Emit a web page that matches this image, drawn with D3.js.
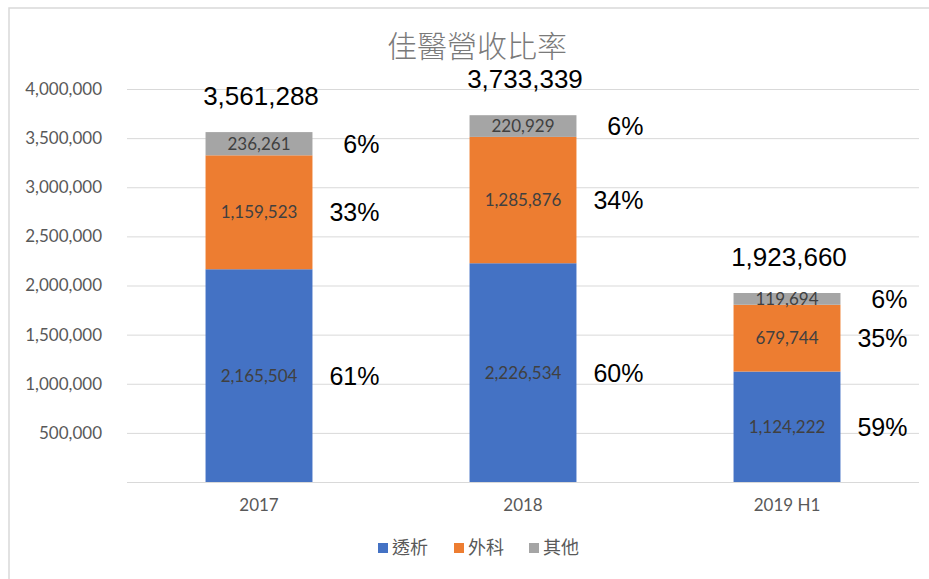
<!DOCTYPE html>
<html>
<head>
<meta charset="utf-8">
<script src="https://cdn.jsdelivr.net/npm/d3@7"></script>
<style>
  body { margin: 0; background: #fff; }
</style>
</head>
<body>
<div id="chart"></div>
<script>
// data
const categories = ["2017", "2018", "2019 H1"];
const seriesNames = ["透析", "外科", "其他"];
const dialysis = [2165504, 2226534, 1124222];
const surgery = [1159523, 1285876, 679744];
const other = [236261, 220929, 119694];
// share labels as printed in the chart (per series, per year)
const dialysisShare = ["61%", "60%", "59%"];
const surgeryShare = ["33%", "34%", "35%"];
const otherShare = ["6%", "6%", "6%"];
const yTicks = [500000, 1000000, 1500000, 2000000, 2500000, 3000000, 3500000, 4000000];
const colors = ["#4472C4", "#ED7D31", "#A5A5A5"];

const width = 929, height = 579;
const plotLeft = 127, plotRight = 919, plotTop = 89, plotBottom = 482;
const latin = "Lato, 'Noto Sans CJK TC', sans-serif";
const arial = "'Liberation Sans', Arial, sans-serif";
const cjk = "'Noto Sans CJK TC', sans-serif";

const shares = [dialysisShare, surgeryShare, otherShare];
const rows = categories.map((c, i) => ({
    cat: c, idx: i, "透析": dialysis[i], "外科": surgery[i], "其他": other[i],
    total: dialysis[i] + surgery[i] + other[i]
}));

const svg = d3.select("#chart")
    .append("svg")
    .attr("width", width)
    .attr("height", height);

// chart frame
svg.append("rect")
    .attr("x", 9).attr("y", 8)
    .attr("width", 940).attr("height", 600)
    .attr("fill", "none")
    .attr("stroke", "#d9d9d9")
    .attr("stroke-width", 1.5);

svg.append("text")
    .attr("x", 477).attr("y", 57)
    .attr("text-anchor", "middle")
    .style("font-family", cjk)
    .attr("font-weight", 300)
    .attr("font-size", 30)
    .attr("fill", "#7a7a7a")
    .text("佳醫營收比率");

const x = d3.scaleBand().domain(categories).range([plotLeft, plotRight]).paddingInner(0.595).paddingOuter(0.2975);
const y = d3.scaleLinear().domain([0, 4000000]).range([plotBottom, plotTop]);

// gridlines
svg.append("g")
    .selectAll("line")
    .data([0].concat(yTicks))
    .enter().append("line")
    .attr("x1", plotLeft).attr("x2", plotRight)
    .attr("y1", d => y(d) + 0.5).attr("y2", d => y(d) + 0.5)
    .attr("stroke", "#d9d9d9");

// y axis labels
const yAxis = svg.append("g")
    .attr("transform", `translate(${plotLeft - 22},0)`)
    .call(d3.axisLeft(y).tickValues(yTicks).tickSize(0).tickFormat(d3.format(",")));
yAxis.select(".domain").remove();
yAxis.selectAll("text").attr("font-size", 17).attr("fill", "#595959").style("font-family", latin);

// x axis labels
const xAxis = svg.append("g")
    .attr("transform", `translate(0,${plotBottom + 14})`)
    .call(d3.axisBottom(x).tickSize(0));
xAxis.select(".domain").remove();
xAxis.selectAll("text").attr("font-size", 17).attr("fill", "#595959").style("font-family", latin);

const stack = d3.stack().keys(seriesNames)(rows);

const layers = svg.append("g")
    .selectAll("g")
    .data(stack)
    .enter().append("g")
    .attr("fill", (d, i) => colors[i]);

layers.selectAll("rect")
    .data(d => d)
    .enter().append("rect")
    .attr("x", d => x(d.data.cat))
    .attr("y", d => y(d[1]))
    .attr("width", x.bandwidth())
    .attr("height", d => y(d[0]) - y(d[1]));

// values inside segments
layers.selectAll("text.val")
    .data(d => d)
    .enter().append("text")
    .attr("class", "val")
    .attr("x", d => x(d.data.cat) + x.bandwidth() / 2)
    .attr("y", d => (y(d[0]) + y(d[1])) / 2 + 6)
    .attr("text-anchor", "middle")
    .attr("font-size", 17)
    .attr("fill", "#404040")
    .style("font-family", latin)
    .text(d => d3.format(",")(d[1] - d[0]));

// percentages to the right
layers.each(function(s, si) {
    d3.select(this).selectAll("text.pct")
        .data(s)
        .enter().append("text")
        .attr("class", "pct")
        .attr("x", d => x(d.data.cat) + x.bandwidth() + 67)
        .attr("y", d => (y(d[0]) + y(d[1])) / 2 + 9)
        .attr("text-anchor", "end")
        .style("font-family", arial)
        .attr("font-size", 25)
        .attr("fill", "#000")
        .text(d => shares[si][d.data.idx]);
});

// totals
svg.append("g")
    .selectAll("text")
    .data(rows)
    .enter().append("text")
    .attr("x", d => x(d.cat) + x.bandwidth() / 2 + 2)
    .attr("y", d => y(d.total) - 27)
    .attr("text-anchor", "middle")
    .style("font-family", arial)
    .attr("font-size", 26)
    .attr("fill", "#000")
    .text(d => d3.format(",")(d.total));

// legend
const legendX = [378, 454, 529];
const legend = svg.append("g")
    .selectAll("g")
    .data(seriesNames)
    .enter().append("g")
    .attr("transform", (d, i) => `translate(${legendX[i]},543)`);
legend.append("rect")
    .attr("width", 10).attr("height", 10)
    .attr("fill", (d, i) => colors[i]);
legend.append("text")
    .attr("x", 14).attr("y", 11)
    .style("font-family", cjk)
    .attr("font-size", 18)
    .attr("fill", "#595959")
    .text(d => d);
</script>
</body>
</html>
